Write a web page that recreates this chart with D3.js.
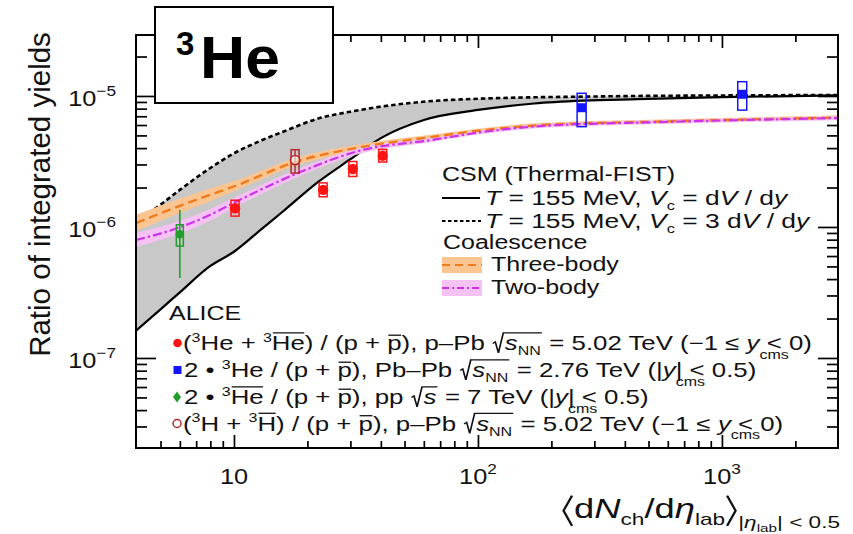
<!DOCTYPE html>
<html>
<head>
<meta charset="utf-8">
<script src="https://cdn.jsdelivr.net/npm/d3@7"></script>
<style>
  body { margin: 0; background: #fff; }
  svg { display: block; }
  text { white-space: pre; }
</style>
</head>
<body>
<script>
// ---- CSM (Thermal-FIST) curves, sampled on a common multiplicity grid ----
const csmX   = [3.97, 5, 6, 8, 10, 13, 16, 22, 30, 40, 60, 100, 170, 270, 450, 1000, 2990];
const csmVc1 = [1.62e-7, 2.35e-7, 3.17e-7, 5.04e-7, 6.47e-7, 9.67e-7, 1.33e-6, 2.19e-6, 3.29e-6,
                4.77e-6, 6.56e-6, 7.82e-6, 8.76e-6, 9.2e-6, 9.45e-6, 9.8e-6, 1.009e-5];
const csmVc3 = [1.092e-6, 1.48e-6, 1.92e-6, 2.82e-6, 3.65e-6, 4.59e-6, 5.36e-6, 6.70e-6, 7.59e-6,
                8.29e-6, 9.04e-6, 9.52e-6, 9.77e-6, 9.88e-6, 1.0e-5, 1.009e-5, 1.018e-5];

// ---- Coalescence curves with their uncertainty bands ----
const coalX     = [3.97, 6, 8, 10, 18, 34, 64, 100, 180, 560, 2990];
const threeBody = [1.07e-6, 1.45e-6, 1.76e-6, 2.04e-6, 3.15e-6, 4.10e-6, 4.85e-6, 5.42e-6, 5.99e-6, 6.38e-6, 6.84e-6];
const threeLo   = [0.93e-6, 1.28e-6, 1.57e-6, 1.87e-6, 2.94e-6, 3.89e-6, 4.66e-6, 5.23e-6, 5.78e-6, 6.16e-6, 6.60e-6];
const threeHi   = [1.24e-6, 1.64e-6, 1.97e-6, 2.23e-6, 3.38e-6, 4.32e-6, 5.05e-6, 5.62e-6, 6.21e-6, 6.61e-6, 7.09e-6];
const twoBody   = [7.95e-7, 9.95e-7, 1.24e-6, 1.53e-6, 2.55e-6, 3.89e-6, 4.60e-6, 5.25e-6, 5.89e-6, 6.32e-6, 6.78e-6];
const twoLo     = [7.03e-7, 8.90e-7, 1.12e-6, 1.40e-6, 2.38e-6, 3.69e-6, 4.44e-6, 5.07e-6, 5.69e-6, 6.10e-6, 6.54e-6];
const twoHi     = [8.99e-7, 1.11e-6, 1.37e-6, 1.67e-6, 2.73e-6, 4.10e-6, 4.77e-6, 5.44e-6, 6.10e-6, 6.55e-6, 7.02e-6];

// ---- ALICE measurements ----
// (3He + anti-3He)/(p + pbar), p-Pb 5.02 TeV
const pPbX     = [10.1, 23.2, 30.7, 40.7];
const pPbY     = [1.39e-6, 1.92e-6, 2.77e-6, 3.50e-6];
const pPbSysLo = [1.21e-6, 1.70e-6, 2.43e-6, 3.13e-6];
const pPbSysHi = [1.60e-6, 2.17e-6, 3.16e-6, 3.91e-6];
// 2 x 3He/(p + pbar), Pb-Pb 2.76 TeV
const pbPbX     = [266, 1211];
const pbPbY     = [8.13e-6, 1.03e-5];
const pbPbSysLo = [5.83e-6, 7.8e-6];
const pbPbSysHi = [1.048e-5, 1.285e-5];
// 2 x anti-3He/(p + pbar), pp 7 TeV
const ppX      = [6.0];
const ppY      = [8.8e-7];
const ppStatLo = [4.08e-7];
const ppStatHi = [1.347e-6];
const ppSysLo  = [7.15e-7];
const ppSysHi  = [1.04e-6];
// (3H + anti-3H)/(p + pbar), p-Pb 5.02 TeV
const tritX     = [17.8];
const tritY     = [3.24e-6];
const tritSysLo = [2.58e-6];
const tritSysHi = [3.89e-6];

// ---- axis ticks ----
const xMajor = [10, 100, 1000];
const xMajorLabels = [["10", ""], ["10", "2"], ["10", "3"]];
const yMajor = [1e-7, 1e-6, 1e-5];
const yMajorLabels = [["10", "\u22127"], ["10", "\u22126"], ["10", "\u22125"]];

// ---- layout ----
const W = 853, H = 534;
const P = { left: 136, right: 838, top: 35, bottom: 448 };
const FONT = "'Liberation Sans', Arial, Helvetica, sans-serif";
const INK = "#111";

const x = d3.scaleLog().domain([3.967, 2990]).range([P.left, P.right]);
const y = d3.scaleLog().domain([2.055e-8, 2.92e-5]).range([P.bottom, P.top]);

const svg = d3.select("body").append("svg")
  .attr("width", W).attr("height", H)
  .attr("viewBox", `0 0 ${W} ${H}`)
  .style("font-family", FONT);

// Text built from pieces (sub/superscripts, overlines, radicals, brackets)
function rich(parent, segs, size, opts) {
  const color = opts.color || INK;
  const g = parent.append("g").attr("fill", color);
  let cx = 0, radX = null;
  const lw = Math.max(1.1, size * 0.065);
  segs.forEach(s => {
    if (s.rad === "open") { radX = cx; cx += size * 0.5; return; }
    if (s.rad === "close") {
      const top = -size * 0.86;
      g.append("path")
        .attr("d", `M${radX + size * 0.03},${-size * 0.33} L${radX + size * 0.13},${-size * 0.41} ` +
                   `L${radX + size * 0.25},${size * 0.14} L${radX + size * 0.44},${top} L${cx + size * 0.04},${top}`)
        .attr("fill", "none").attr("stroke", color).attr("stroke-width", lw);
      cx += size * 0.05;
      return;
    }
    if (s.br) {
      const fs = size * (s.sz || 1), w = fs * 0.36;
      const d = s.br === "l"
        ? `M${cx + w * 0.85},${-fs * 0.80} L${cx + w * 0.2},${-fs * 0.26} L${cx + w * 0.85},${fs * 0.28}`
        : `M${cx + w * 0.15},${-fs * 0.80} L${cx + w * 0.8},${-fs * 0.26} L${cx + w * 0.15},${fs * 0.28}`;
      g.append("path").attr("d", d).attr("fill", "none").attr("stroke", color).attr("stroke-width", lw);
      cx += w;
      return;
    }
    const fs = size * (s.sz || 1), yy = (s.dy || 0) * size;
    const t = g.append("text")
      .attr("x", cx).attr("y", yy)
      .attr("font-size", fs)
      .attr("xml:space", "preserve")
      .text(s.t);
    if (s.it) t.attr("font-style", "italic");
    const w = t.node().getComputedTextLength();
    if (s.ol) {
      const oy = yy - fs * (s.olH || 0.86);
      g.append("line")
        .attr("x1", cx + fs * 0.04).attr("x2", cx + w - fs * 0.02)
        .attr("y1", oy).attr("y2", oy)
        .attr("stroke", color).attr("stroke-width", lw);
    }
    if (!s.noadv) cx += w;
  });
  const sx = opts.sx || 1;
  const total = cx * sx;
  let x0 = opts.x;
  if (opts.anchor === "middle") x0 -= total / 2;
  else if (opts.anchor === "end") x0 -= total;
  g.attr("transform", `translate(${x0},${opts.y}) scale(${sx},1)`);
  return total;
}
const sup = t => ({ t, sz: 0.62, dy: -0.42 });
const sub = t => ({ t, sz: 0.62, dy: 0.26 });
const subNA = t => ({ t, sz: 0.62, dy: 0.44, noadv: true });
const pbar = { t: "p", ol: true, olH: 0.74 };

// ---- ticks on all four sides (drawn first; bands sit on top of them) ----
const xMinor = x.ticks().filter(v => v > 4.5 && !xMajor.includes(v));
const yMinor = y.ticks().filter(v => !yMajor.some(m => Math.abs(m - v) / m < 1e-6));

function ticks(axis, vals, len, tr) {
  svg.append("g").attr("transform", tr)
    .call(axis.tickValues(vals).tickSize(-len).tickFormat(""))
    .call(g => {
      g.select(".domain").remove();
      g.selectAll("line").attr("stroke", "#000").attr("stroke-width", 1.7);
    });
}
ticks(d3.axisBottom(x), xMajor, 13, `translate(0,${P.bottom})`);
ticks(d3.axisBottom(x), xMinor, 7, `translate(0,${P.bottom})`);
ticks(d3.axisTop(x), xMajor, 13, `translate(0,${P.top})`);
ticks(d3.axisTop(x), xMinor, 7, `translate(0,${P.top})`);
ticks(d3.axisLeft(y), yMajor, 20, `translate(${P.left},0)`);
ticks(d3.axisLeft(y), yMinor, 11, `translate(${P.left},0)`);
ticks(d3.axisRight(y), yMajor, 20, `translate(${P.right},0)`);
ticks(d3.axisRight(y), yMinor, 11, `translate(${P.right},0)`);

// ---- plot contents ----
svg.append("clipPath").attr("id", "plotclip")
  .append("rect").attr("x", P.left).attr("y", P.top)
  .attr("width", P.right - P.left).attr("height", P.bottom - P.top);
const plot = svg.append("g").attr("clip-path", "url(#plotclip)");

const curve = d3.curveMonotoneX;
const csm = csmX.map((v, i) => ({ x: v, lo: csmVc1[i], hi: csmVc3[i] }));
plot.append("path").datum(csm)
  .attr("fill", "#c8c8c8")
  .attr("d", d3.area().curve(curve).x(d => x(d.x)).y0(d => y(d.lo)).y1(d => y(d.hi)));
plot.append("path").datum(csm)
  .attr("fill", "none").attr("stroke", "#000").attr("stroke-width", 2.2)
  .attr("d", d3.line().curve(curve).x(d => x(d.x)).y(d => y(d.lo)));
plot.append("path").datum(csm)
  .attr("fill", "none").attr("stroke", "#000").attr("stroke-width", 2.6)
  .attr("stroke-dasharray", "4.5,3")
  .attr("d", d3.line().curve(curve).x(d => x(d.x)).y(d => y(d.hi)));

const three = coalX.map((v, i) => ({ x: v, c: threeBody[i], lo: threeLo[i], hi: threeHi[i] }));
const two = coalX.map((v, i) => ({ x: v, c: twoBody[i], lo: twoLo[i], hi: twoHi[i] }));
const band = d3.area().curve(curve).x(d => x(d.x)).y0(d => y(d.lo)).y1(d => y(d.hi));
const mid = d3.line().curve(curve).x(d => x(d.x)).y(d => y(d.c));
plot.append("path").datum(three).attr("fill", "#fbc592").attr("d", band);
plot.append("path").datum(two).attr("fill", "#f6c2f6").attr("d", band);
plot.append("path").datum(three).attr("fill", "none")
  .attr("stroke", "#f07a1e").attr("stroke-width", 2.4).attr("stroke-dasharray", "9,5").attr("d", mid);
plot.append("path").datum(two).attr("fill", "none")
  .attr("stroke", "#cc33e6").attr("stroke-width", 2.2).attr("stroke-dasharray", "9,3,2.5,3").attr("d", mid);

// systematic boxes
function sysBoxes(xs, lo, hi, hw, color) {
  plot.selectAll(null).data(xs).enter().append("rect")
    .attr("x", d => x(d) - hw).attr("width", 2 * hw)
    .attr("y", (d, i) => y(hi[i])).attr("height", (d, i) => y(lo[i]) - y(hi[i]))
    .attr("fill", "none").attr("stroke", color).attr("stroke-width", 1.5);
}
const RED = "#ff1414", BLUE = "#1414ff", GREEN = "#1f9e2a", BROWN = "#b4282e";

// pp
plot.selectAll(null).data(ppX).enter().append("line")
  .attr("x1", d => x(d)).attr("x2", d => x(d))
  .attr("y1", (d, i) => y(ppStatHi[i])).attr("y2", (d, i) => y(ppStatLo[i]))
  .attr("stroke", GREEN).attr("stroke-width", 1.6);
sysBoxes(ppX, ppSysLo, ppSysHi, 3.5, GREEN);
plot.selectAll(null).data(ppX).enter().append("circle")
  .attr("cx", d => x(d)).attr("cy", (d, i) => y(ppY[i])).attr("r", 4.3).attr("fill", GREEN);

// p-Pb 3He
sysBoxes(pPbX, pPbSysLo, pPbSysHi, 4, RED);
plot.selectAll(null).data(pPbX).enter().append("circle")
  .attr("cx", d => x(d)).attr("cy", (d, i) => y(pPbY[i])).attr("r", 5.2).attr("fill", RED);

// p-Pb 3H
plot.selectAll(null).data(tritX).enter().append("line")
  .attr("x1", d => x(d)).attr("x2", d => x(d))
  .attr("y1", (d, i) => y(tritSysHi[i])).attr("y2", (d, i) => y(tritSysLo[i]))
  .attr("stroke", BROWN).attr("stroke-width", 1.4);
sysBoxes(tritX, tritSysLo, tritSysHi, 4, BROWN);
plot.selectAll(null).data(tritX).enter().append("circle")
  .attr("cx", d => x(d)).attr("cy", (d, i) => y(tritY[i])).attr("r", 4.6)
  .attr("fill", "#fff").attr("fill-opacity", 0.6).attr("stroke", BROWN).attr("stroke-width", 1.6);

// Pb-Pb
sysBoxes(pbPbX, pbPbSysLo, pbPbSysHi, 4.5, BLUE);
plot.selectAll(null).data(pbPbX).enter().append("rect")
  .attr("x", d => x(d) - 4.5).attr("y", (d, i) => y(pbPbY[i]) - 4.5)
  .attr("width", 9).attr("height", 9).attr("fill", BLUE);

// frame
svg.append("rect")
  .attr("x", P.left).attr("y", P.top)
  .attr("width", P.right - P.left).attr("height", P.bottom - P.top)
  .attr("fill", "none").attr("stroke", "#000").attr("stroke-width", 2);

// ---- tick labels ----
xMajor.forEach((v, i) => {
  const [b, e] = xMajorLabels[i];
  const segs = [{ t: b }];
  if (e) segs.push({ t: e, sz: 0.68, dy: -0.45 });
  rich(svg, segs, 22, { x: x(v), y: 484, anchor: "middle", sx: 1.15 });
});
yMajor.forEach((v, i) => {
  const [b, e] = yMajorLabels[i];
  rich(svg, [{ t: b }, { t: e, sz: 0.68, dy: -0.45 }], 22, { x: 116, y: y(v) + 10, anchor: "end", sx: 1.15 });
});

// ---- axis titles ----
svg.append("text")
  .attr("transform", "translate(49.5,194.5) rotate(-90)")
  .attr("text-anchor", "middle").attr("font-size", 29.5).attr("fill", INK)
  .text("Ratio of integrated yields");

rich(svg, [
  { br: "l" }, { t: "d" }, { t: "N", it: true }, sub("ch"), { t: "/d" }, { t: "\u03b7", it: true }, sub("lab"),
  { br: "r" },
  { t: "|", sz: 0.62, dy: 0.34 }, { t: "\u03b7", it: true, sz: 0.62, dy: 0.34 }, { t: "lab", sz: 0.42, dy: 0.5 },
  { t: "| < 0.5", sz: 0.62, dy: 0.34 }
], 28, { x: 840, y: 518, anchor: "end", sx: 1.3 });

// ---- model legend ----
const LS = 20, LSX = 1.25, LSX_T = 1.32, LSX_A = 1.29;
const lg = svg.append("g");
rich(lg, [{ t: "CSM (Thermal-FIST)" }], LS, { x: 442, y: 181, sx: LSX });
lg.append("line").attr("x1", 442).attr("x2", 480).attr("y1", 198).attr("y2", 198)
  .attr("stroke", "#000").attr("stroke-width", 2);
rich(lg, [{ t: "T", it: true }, { t: " = 155 MeV, " }, { t: "V", it: true }, sub("c"),
          { t: " = d" }, { t: "V", it: true }, { t: " / d" }, { t: "y", it: true }],
     LS, { x: 485, y: 205, sx: LSX_T });
lg.append("line").attr("x1", 442).attr("x2", 481).attr("y1", 221).attr("y2", 221)
  .attr("stroke", "#000").attr("stroke-width", 2).attr("stroke-dasharray", "3.5,2.5");
rich(lg, [{ t: "T", it: true }, { t: " = 155 MeV, " }, { t: "V", it: true }, sub("c"),
          { t: " = 3 d" }, { t: "V", it: true }, { t: " / d" }, { t: "y", it: true }],
     LS, { x: 485, y: 228, sx: LSX_T });
rich(lg, [{ t: "Coalescence" }], LS, { x: 443, y: 249, sx: LSX });
lg.append("rect").attr("x", 442).attr("y", 257).attr("width", 40).attr("height", 16).attr("fill", "#fbc592");
lg.append("line").attr("x1", 442).attr("x2", 482).attr("y1", 265).attr("y2", 265)
  .attr("stroke", "#f07a1e").attr("stroke-width", 2.2).attr("stroke-dasharray", "8,5");
rich(lg, [{ t: "Three-body" }], LS, { x: 491, y: 271, sx: LSX });
lg.append("rect").attr("x", 442).attr("y", 280).attr("width", 40).attr("height", 16).attr("fill", "#f6c2f6");
lg.append("line").attr("x1", 442).attr("x2", 482).attr("y1", 288).attr("y2", 288)
  .attr("stroke", "#cc33e6").attr("stroke-width", 2).attr("stroke-dasharray", "7,3,2,3");
rich(lg, [{ t: "Two-body" }], LS, { x: 491, y: 294, sx: LSX });

// ---- data legend ----
rich(lg, [{ t: "ALICE" }], LS, { x: 169, y: 320, sx: LSX });
lg.append("circle").attr("cx", 177.5).attr("cy", 343).attr("r", 4.3).attr("fill", RED);
rich(lg, [{ t: "(" }, sup("3"), { t: "He + " }, sup("3"), { t: "He", ol: true }, { t: ") / (p + " }, pbar,
          { t: "), p\u2013Pb " }, { rad: "open" }, { t: "s", it: true }, sub("NN"), { rad: "close" },
          { t: " = 5.02 TeV (\u22121 \u2264 " }, { t: "y", it: true }, subNA("cms"), { t: " < 0)" }],
     LS, { x: 183, y: 350, sx: LSX_A });
lg.append("rect").attr("x", 173.5).attr("y", 366).attr("width", 8).attr("height", 8).attr("fill", BLUE);
rich(lg, [{ t: "2 \u2022 " }, sup("3"), { t: "He / (p + " }, pbar,
          { t: "), Pb\u2013Pb " }, { rad: "open" }, { t: "s", it: true }, sub("NN"), { rad: "close" },
          { t: " = 2.76 TeV (|" }, { t: "y", it: true }, subNA("cms"), { t: "| < 0.5)" }],
     LS, { x: 184, y: 377, sx: LSX_A });
lg.append("path").attr("d", "M177,391.5 L181,397 L177,402.5 L173,397 Z").attr("fill", GREEN);
rich(lg, [{ t: "2 \u2022 " }, sup("3"), { t: "He", ol: true }, { t: " / (p + " }, pbar,
          { t: "), pp " }, { rad: "open" }, { t: "s", it: true }, { rad: "close" },
          { t: " = 7 TeV (|" }, { t: "y", it: true }, subNA("cms"), { t: "| < 0.5)" }],
     LS, { x: 184, y: 404, sx: LSX_A });
lg.append("circle").attr("cx", 177).attr("cy", 423.5).attr("r", 4).attr("fill", "none")
  .attr("stroke", BROWN).attr("stroke-width", 1.5);
rich(lg, [{ t: "(" }, sup("3"), { t: "H + " }, sup("3"), { t: "H", ol: true }, { t: ") / (p + " }, pbar,
          { t: "), p\u2013Pb " }, { rad: "open" }, { t: "s", it: true }, sub("NN"), { rad: "close" },
          { t: " = 5.02 TeV (\u22121 \u2264 " }, { t: "y", it: true }, subNA("cms"), { t: " < 0)" }],
     LS, { x: 183, y: 430.5, sx: LSX_A });

// ---- nucleus label ----
svg.append("rect").attr("x", 155).attr("y", 7).attr("width", 178).attr("height", 96)
  .attr("fill", "#fff").attr("stroke", "#000").attr("stroke-width", 2);
svg.append("text").attr("x", 176).attr("y", 55).attr("font-size", 33).attr("font-weight", "bold")
  .attr("fill", "#000").text("3");
svg.append("text").attr("transform", "translate(200,78) scale(1.06,1)")
  .attr("font-size", 59).attr("font-weight", "bold")
  .attr("fill", "#000").text("He");
</script>
</body>
</html>
